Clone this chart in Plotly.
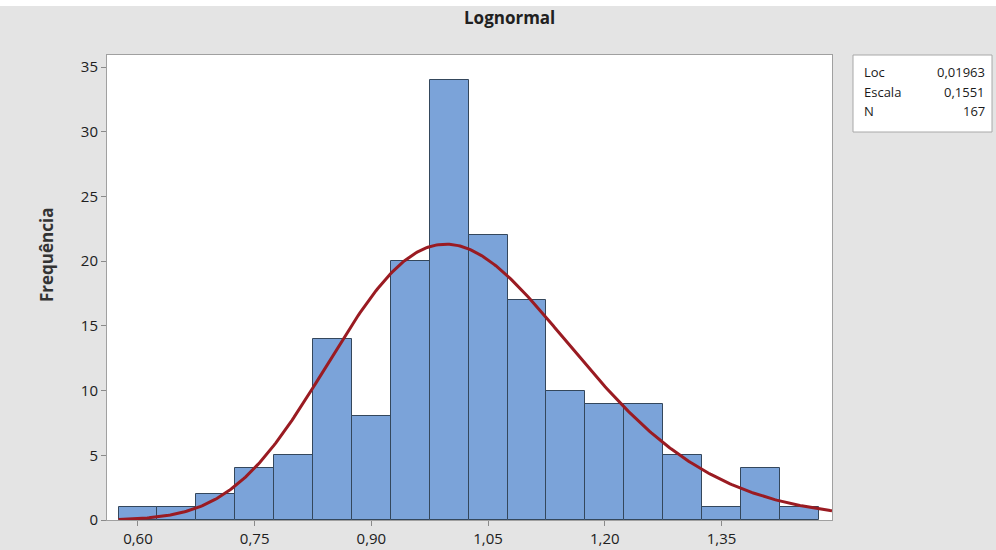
import numpy as np
import plotly.graph_objects as go

# Histogram data (bin centres, width 0.05) and counts
bin_centers = [0.60, 0.65, 0.70, 0.75, 0.80, 0.85, 0.90, 0.95, 1.00,
               1.05, 1.10, 1.15, 1.20, 1.25, 1.30, 1.35, 1.40, 1.45]
counts = [1, 1, 2, 4, 5, 14, 8, 20, 34, 22, 17, 10, 9, 9, 5, 1, 4, 1]
bin_width = 0.05

# Fitted lognormal parameters
loc = 0.01963
scale = 0.1551
n_obs = 167

x_ticks = [0.60, 0.75, 0.90, 1.05, 1.20, 1.35]
y_ticks = [0, 5, 10, 15, 20, 25, 30, 35]

x_min, x_max = 0.5602, 1.492
y_max = 35.93

# Lognormal density scaled to the histogram counts
xs = np.linspace(bin_centers[0] - bin_width / 2, x_max, 400)
pdf = np.exp(-(np.log(xs) - loc) ** 2 / (2 * scale ** 2)) / (xs * scale * np.sqrt(2 * np.pi))
curve = pdf * n_obs * bin_width

FONT = "Open Sans, Noto Sans, sans-serif"
TEXT = "#202020"

fig = go.Figure()
fig.add_trace(go.Bar(
    x=bin_centers, y=counts, width=bin_width,
    marker=dict(color="#7BA3D9", line=dict(color="#34475C", width=1)),
    hoverinfo="x+y",
))
fig.add_trace(go.Scatter(
    x=xs, y=curve, mode="lines",
    line=dict(color="#9A1B22", width=3),
    hoverinfo="skip",
))

fig.update_layout(
    width=996, height=550,
    margin=dict(l=107, r=164, t=55, b=30),
    paper_bgcolor="#e4e4e4",
    plot_bgcolor="#ffffff",
    showlegend=False,
    separators=",.",
    font=dict(family=FONT, size=13, color=TEXT),
    bargap=0,
    xaxis=dict(
        range=[x_min, x_max], tickvals=x_ticks, tickformat=".2f",
        ticks="outside", ticklen=5, tickcolor="#8a8a8a",
        showgrid=False, zeroline=False, automargin=False,
        showline=True, linecolor="#a0a0a0", linewidth=1, mirror=True,
        tickfont=dict(size=15, color=TEXT),
    ),
    yaxis=dict(
        range=[0, y_max], tickvals=y_ticks,
        ticks="outside", ticklen=5, tickcolor="#8a8a8a",
        showgrid=False, zeroline=False, automargin=False,
        showline=True, linecolor="#a0a0a0", linewidth=1, mirror=True,
        tickfont=dict(size=15, color=TEXT),
    ),
)

# White strip along the top edge
fig.add_shape(type="rect", xref="paper", yref="paper",
              x0=-107 / 725, x1=(996 - 107) / 725, y0=1 + 49 / 465, y1=1 + 55 / 465,
              fillcolor="#ffffff", line=dict(width=0), layer="below")

# Title
fig.add_annotation(text="<b>Lognormal</b>", xref="paper", yref="paper",
                   x=(509 - 107) / 725, y=1 + (55 - 18) / 465,
                   showarrow=False, font=dict(size=17, color=TEXT),
                   xanchor="center", yanchor="middle")

# Y-axis title
fig.add_annotation(text="<b>Frequência</b>", xref="paper", yref="paper",
                   x=(47 - 107) / 725, y=(520 - 255) / 465, textangle=-90,
                   showarrow=False, font=dict(size=17, color="#333333"),
                   xanchor="center", yanchor="middle")

# Parameter box
px = lambda p: (p - 107) / 725
py = lambda p: (520 - p) / 465
fig.add_shape(type="rect", xref="paper", yref="paper",
              x0=px(853), x1=px(992), y0=py(132), y1=py(55),
              fillcolor="#ffffff", line=dict(color="#a8a8a8", width=1))
rows = [("Loc", "0,01963"), ("Escala", "0,1551"), ("N", str(n_obs))]
for i, (lab, val) in enumerate(rows):
    yy = py(72 + i * 19.5)
    fig.add_annotation(text=lab, xref="paper", yref="paper", x=px(862), y=yy,
                       xanchor="left", yanchor="middle", showarrow=False,
                       font=dict(size=13, color="#1a1a1a"))
    fig.add_annotation(text=val, xref="paper", yref="paper", x=px(987), y=yy,
                       xanchor="right", yanchor="middle", showarrow=False,
                       font=dict(size=13, color="#1a1a1a"))

fig.write_html("out.html")
